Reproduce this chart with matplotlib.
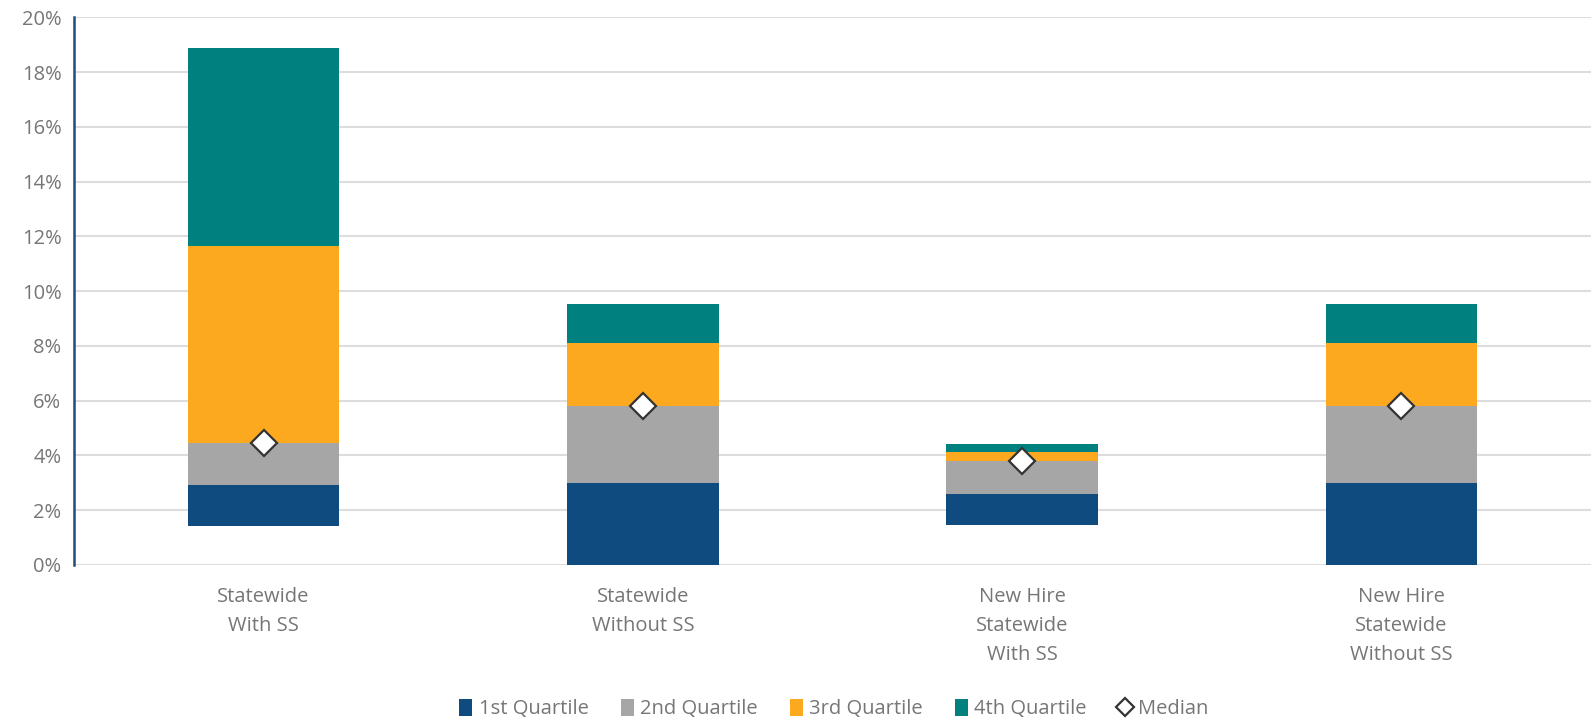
import matplotlib
import numpy as np

matplotlib.use("Agg")
import matplotlib.pyplot as plt
from matplotlib.lines import Line2D
from matplotlib.patches import Patch

# Contribution rate ranges (percent of pay) by plan group
categories = [
    "Statewide\nWith SS",
    "Statewide\nWithout SS",
    "New Hire\nStatewide\nWith SS",
    "New Hire\nStatewide\nWithout SS",
]
low = [1.42, 0.0, 1.45, 0.0]
q1 = [2.93, 3.00, 2.61, 3.00]
median = [4.44, 5.81, 3.81, 5.81]
q3 = [11.65, 8.11, 4.12, 8.11]
high = [18.87, 9.52, 4.43, 9.52]

quartile_names = ["1st Quartile", "2nd Quartile", "3rd Quartile", "4th Quartile"]
quartile_colors = ["#0F4B7F", "#A6A6A6", "#FDA91F", "#00807F"]

text_color = "#767676"
plt.rcParams["font.family"] = ["Open Sans", "DejaVu Sans"]

fig = plt.figure(figsize=(15.91, 7.21), dpi=100)
ax = fig.add_axes([0.0465, 0.2164, 0.9535, 0.7596])

x = np.arange(len(categories))
width = 0.4
edges = [low, q1, median, q3, high]
for i, (name, color) in enumerate(zip(quartile_names, quartile_colors)):
    bottom = np.array(edges[i])
    height = np.array(edges[i + 1]) - bottom
    ax.bar(x, height, width, bottom=bottom, color=color, label=name, zorder=2)

ax.plot(x, median, linestyle="none", marker="D", markersize=13,
        markerfacecolor="white", markeredgecolor="#333333",
        markeredgewidth=1.6, zorder=3)

ax.set_xlim(-0.5, len(categories) - 0.5)
ax.set_ylim(0, 20)
ax.set_yticks(np.arange(0, 21, 2))
ax.set_yticklabels([f"{v}%" for v in range(0, 21, 2)])
ax.set_xticks(x)
ax.set_xticklabels(categories, linespacing=1.6)

ax.grid(axis="y", color="#DDDDDD", linewidth=1.5, zorder=0)
ax.set_axisbelow(True)
for side in ["top", "right", "bottom"]:
    ax.spines[side].set_visible(False)
ax.spines["left"].set_color("#1F4E79")
ax.spines["left"].set_linewidth(1.8)
ax.tick_params(axis="both", length=0, labelsize=14.5, colors=text_color)
ax.tick_params(axis="x", pad=16)
ax.tick_params(axis="y", pad=9)

handles = [Patch(facecolor=c, label=n) for n, c in zip(quartile_names, quartile_colors)]
handles.append(Line2D([], [], linestyle="none", marker="D", markersize=9.5,
                      markerfacecolor="white", markeredgecolor="#333333",
                      markeredgewidth=1.6, label="Median"))
fig.legend(handles=handles, loc="center", bbox_to_anchor=(0.524, 0.016),
           ncol=5, frameon=False, fontsize=14.5, labelcolor=text_color,
           handlelength=0.65, handleheight=0.85, handletextpad=0.3,
           columnspacing=1.6)

fig.savefig("out.png", dpi=100)
